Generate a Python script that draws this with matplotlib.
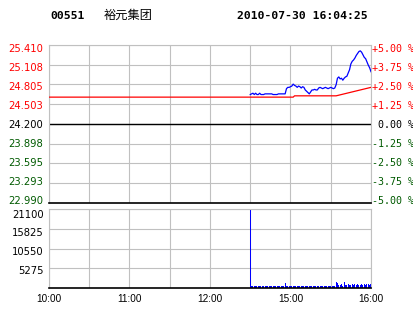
import matplotlib
matplotlib.use('Agg')
import matplotlib.pyplot as plt
from matplotlib.transforms import ScaledTranslation

# header
code = '00551'
name = '裕元集团'
stamp = '2010-07-30 16:04:25'

# price axis (prev close 24.200, +/-5 %)
price_ticks = [22.990, 23.293, 23.595, 23.898, 24.200, 24.503, 24.805, 25.108, 25.410]
pct_labels = ['-5.00 %', '-3.75 %', '-2.50 %', '-1.25 %', ' 0.00 %',
              '+1.25 %', '+2.50 %', '+3.75 %', '+5.00 %']
prev_close = 24.200

# time axis: minutes on the trading clock, 10:00-12:30 then 14:30-16:00
time_ticks = [0, 30, 60, 90, 120, 150, 180, 210, 240]
time_labels = ['10:00', '', '11:00', '', '12:00', '', '15:00', '', '16:00']

# price line, one value a minute from 14:30 (minute 150)
start = 150
prices = [24.65, 24.66, 24.67, 24.65, 24.67, 24.65, 24.65, 24.67, 24.65, 24.65,
          24.65, 24.66, 24.66, 24.66, 24.66, 24.66, 24.66, 24.65, 24.65, 24.65,
          24.65, 24.66, 24.66, 24.66, 24.66, 24.66, 24.66, 24.74, 24.76, 24.76,
          24.77, 24.78, 24.81, 24.79, 24.78, 24.76, 24.78, 24.77, 24.75, 24.77,
          24.76, 24.72, 24.70, 24.68, 24.66, 24.69, 24.72, 24.72, 24.73, 24.72,
          24.72, 24.75, 24.76, 24.75, 24.74, 24.75, 24.76, 24.75, 24.74, 24.75,
          24.76, 24.75, 24.74, 24.75, 24.80, 24.90, 24.92, 24.89, 24.90, 24.87,
          24.90, 24.92, 24.93, 24.98, 25.03, 25.12, 25.16, 25.18, 25.21, 25.25,
          25.28, 25.31, 25.32, 25.30, 25.26, 25.22, 25.20, 25.15, 25.10, 25.06,
          25.00]

# average price line (breakpoints)
avg_min = [0, 182, 183, 214, 240]
avg_val = [24.61, 24.61, 24.63, 24.63, 24.76]

# volume, one value a minute from 14:30
volumes = [21100] + [530] * 25 + [1250] + [530] * 37 + \
          [1600, 1250, 800, 700, 1000, 600, 1700, 850, 700, 950,
           900, 700, 1000, 700, 950, 700, 1000, 850, 700, 1000,
           700, 950, 800, 1000, 1100, 900, 1000]
vol_ticks = [5275, 10550, 15825, 21100]

red = '#ff0000'
green = '#005a00'
grid = '#c0c0c0'


def nudge(labels, shifts_px):
    # move tick labels up/down by a few pixels, like the original layout
    for lab, dy in zip(labels, shifts_px):
        lab.set_transform(lab.get_transform() +
                          ScaledTranslation(0, dy / 100, fig.dpi_scale_trans))


fig = plt.figure(figsize=(4.14, 3.14), dpi=100)
ax = fig.add_axes([49 / 414, 1 - 202.7 / 314, 322 / 414, 157.7 / 314])
axv = fig.add_axes([49 / 414, 1 - 288 / 314, 322 / 414, 79 / 314])

x_price = list(range(start, start + len(prices)))
x_vol = list(range(start, start + len(volumes)))

# main price panel
ax.set_xlim(0, 240)
ax.set_ylim(price_ticks[0], price_ticks[-1])
ax.set_xticks(time_ticks)
ax.set_xticklabels([])
ax.set_yticks(price_ticks)
ax.grid(True, color=grid, lw=0.8)
ax.axhline(prev_close, color='black', lw=1.0, zorder=2)
ax.plot(avg_min, avg_val, color=red, lw=0.9, zorder=3)
ax.plot(x_price, prices, color='#0000ff', lw=0.9, zorder=4)
for s in ax.spines.values():
    s.set_color(grid)
ax.spines['bottom'].set_color('black')
ax.spines['bottom'].set_linewidth(1.2)
ax.tick_params(length=0, pad=4, labelsize=7.2)
ax.set_yticklabels(['%.3f' % v for v in price_ticks])
main_shift = [3.0 - i * 0.7 for i in range(len(price_ticks))]
for lab, v in zip(ax.get_yticklabels(), price_ticks):
    lab.set_color(red if v > prev_close else ('black' if v == prev_close else green))
nudge(ax.get_yticklabels(), main_shift)

axr = ax.twinx()
axr.set_ylim(ax.get_ylim())
axr.set_yticks(price_ticks)
axr.set_yticklabels(pct_labels, family='DejaVu Sans Mono')
axr.tick_params(length=0, pad=0.5, labelsize=7.2)
for s in axr.spines.values():
    s.set_visible(False)
for lab, v in zip(axr.get_yticklabels(), price_ticks):
    lab.set_color(red if v > prev_close else ('black' if v == prev_close else green))
nudge(axr.get_yticklabels(), main_shift)

# volume panel
axv.set_xlim(0, 240)
axv.set_ylim(0, 21100)
axv.bar(x_vol, volumes, width=0.75, color='#0000ff', linewidth=0)
axv.set_xticks(time_ticks)
axv.set_xticklabels(time_labels, family='Liberation Sans')
axv.set_yticks(vol_ticks)
axv.set_yticklabels([str(v) for v in vol_ticks])
axv.grid(True, color=grid, lw=0.8)
axv.set_axisbelow(True)
for s in axv.spines.values():
    s.set_color(grid)
axv.spines['bottom'].set_color('black')
axv.spines['bottom'].set_linewidth(1.2)
axv.tick_params(length=0, labelsize=7.2)
axv.tick_params(axis='y', pad=4)
axv.tick_params(axis='x', pad=4)
nudge(axv.get_yticklabels(), [-1.8, -2.7, -2.8, -4.5])

# header texts
fig.text(50 / 414, 1 - 16 / 314, code, family='DejaVu Sans Mono', weight='bold',
         fontsize=8.2, va='center', ha='left')
fig.text(104 / 414, 1 - 15.5 / 314, name, family=['Noto Sans CJK SC', 'DejaVu Sans'],
         fontsize=8.8, va='center', ha='left')
fig.text(237 / 414, 1 - 16 / 314, stamp, family='DejaVu Sans Mono', weight='bold',
         fontsize=8.2, va='center', ha='left')

fig.savefig('out.png', dpi=100)
